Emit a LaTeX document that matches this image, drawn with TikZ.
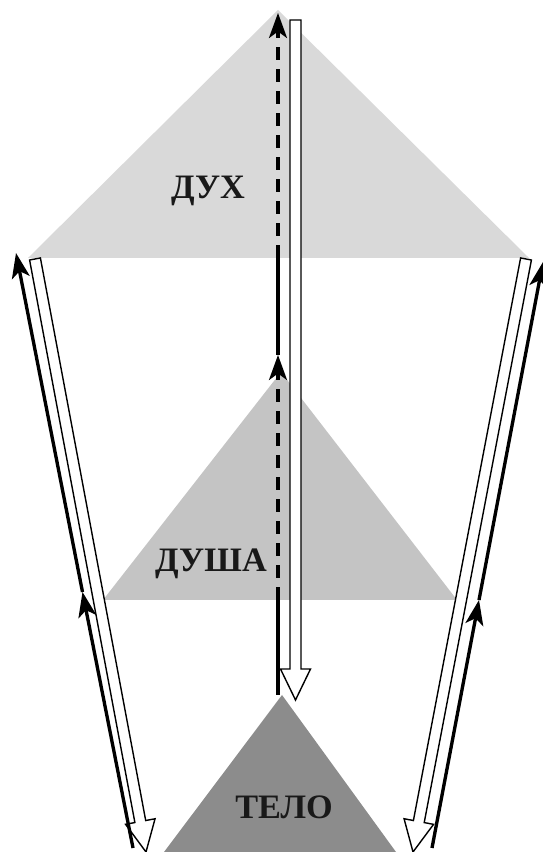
\documentclass[tikz,border=0pt]{standalone}
\usepackage{fontspec}
\setmainfont{Liberation Serif}
\usetikzlibrary{positioning,arrows.meta,calc}
\colorlet{colDuh}{black!15}
\colorlet{colDusha}{black!23}
\colorlet{colTelo}{black!45}
% hollow arrow from #1 to #2
\newcommand{\hollowArrow}[2]{%
  \coordinate (h) at ($(#2)!0.62cm!(#1)$);
  \filldraw[hol] ($(#1)!0.11cm!-90:(#2)$) -- ($(h)!0.11cm!90:(#1)$) -- ($(h)!0.3cm!90:(#1)$)
    -- (#2) -- ($(h)!0.3cm!-90:(#1)$) -- ($(h)!0.11cm!-90:(#1)$) -- ($(#1)!0.11cm!90:(#2)$) -- cycle;
}

\begin{document}
\begin{tikzpicture}[
        lbl/.style={font=\fontsize{19.5}{21}\selectfont\bfseries, text=black!90},
        arr/.style={-{Stealth[length=0.5cm, width=0.36cm, inset=0.13cm]}, line width=1.9pt},
        dsh/.style={arr, dash pattern=on 0.26cm off 0.18cm},
        hol/.style={fill=white, draw=black, line width=0.8pt}
    ]
    \useasboundingbox (0,0) rectangle (10.86,17.04);

    % Triangulos
    \coordinate (duhTop) at (5.56, 16.84);
    \coordinate (duhL) at (0.56, 11.88);
    \coordinate (duhR) at (10.58, 11.88);
    \coordinate (dushaTop) at (5.62, 9.60);
    \coordinate (dushaL) at (2.06, 5.04);
    \coordinate (dushaR) at (9.14, 5.04);
    \coordinate (teloTop) at (5.64, 3.14);
    \coordinate (teloL) at (3.28, 0);
    \coordinate (teloR) at (7.92, 0);

    \fill[colDuh] (duhTop) -- (duhL) -- (duhR) -- cycle;
    \fill[colDusha] (dushaTop) -- (dushaL) -- (dushaR) -- cycle;
    \fill[colTelo] (teloTop) -- (teloL) -- (teloR) -- cycle;

    % Textos
    \node[lbl] (duh) at (4.16, 13.22) {ДУХ};
    \node[lbl] (dusha) at (4.22, 5.76) {ДУША};
    \node[lbl] (telo) at (5.68, 0.90) {ТЕЛО};

    % Flechas huecas
    \coordinate (cHolA) at (5.91, 16.64);
    \coordinate (cHolB) at (5.91, 3.04);
    \coordinate (lHolA) at (0.70, 11.86);
    \coordinate (lHolB) at (2.92, 0);
    \coordinate (rHolA) at (10.52, 11.86);
    \coordinate (rHolB) at (8.26, 0);
    \hollowArrow{cHolA}{cHolB}
    \hollowArrow{lHolA}{lHolB}
    \hollowArrow{rHolA}{rHolB}

    % Flecha central
    \coordinate (cStart) at (5.56, 3.14);
    \coordinate (cDusha) at (5.56, 5.04);
    \coordinate (cMid) at (5.56, 9.94);
    \coordinate (cDuh) at (5.56, 11.88);
    \coordinate (cTop) at (5.56, 16.78);
    \draw[line width=1.9pt] (cStart) -- (cDusha);
    \draw[dsh] (cDusha) -- (cMid);
    \draw[line width=1.9pt] (cMid) -- (cDuh);
    \draw[dsh] (cDuh) -- (cTop);

    % Flechas laterales
    \coordinate (lBot) at (2.66, 0.08);
    \coordinate (lMid) at (1.65, 5.20);
    \coordinate (lTop) at (0.32, 11.98);
    \coordinate (rBot) at (8.64, 0.08);
    \coordinate (rMid) at (9.58, 5.04);
    \coordinate (rTop) at (10.86, 11.80);
    \draw[arr] (lBot) -- (lMid);
    \draw[arr] (lMid) -- (lTop);
    \draw[arr] (rBot) -- (rMid);
    \draw[arr] (rMid) -- (rTop);

\end{tikzpicture}
\end{document}
